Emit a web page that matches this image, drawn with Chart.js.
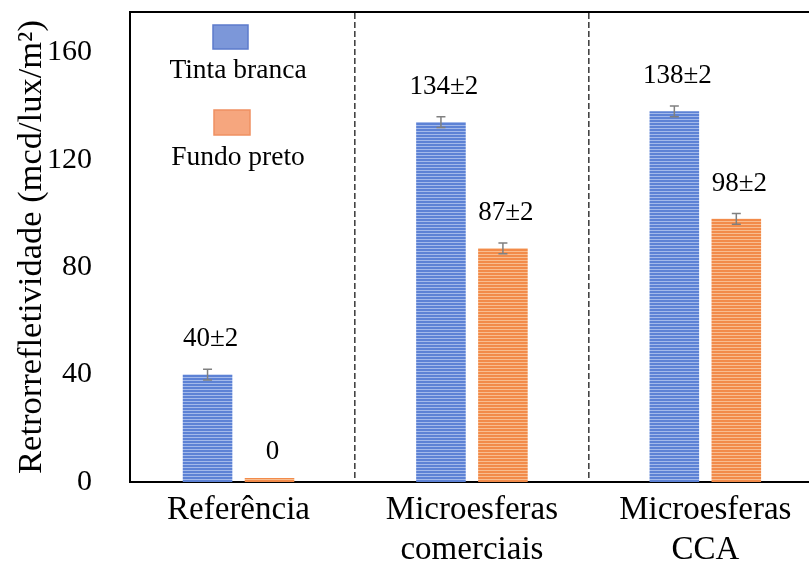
<!DOCTYPE html>
<html>
<head>
<meta charset="utf-8">
<script src="https://cdn.jsdelivr.net/npm/chart.js@4"></script>
<style>
  html, body { margin: 0; padding: 0; background: #fff; width: 809px; height: 568px; overflow: hidden; }
  #wrap { position: relative; width: 840px; height: 568px; }
</style>
</head>
<body>
<div id="wrap"><canvas id="c" width="840" height="568"></canvas></div>
<script>
// Retroreflectivity per sample group
const categories = ['Referência', ['Microesferas', 'comerciais'], ['Microesferas', 'CCA']];
const seriesNames = ['Tinta branca', 'Fundo preto'];
const tintaBranca = [40, 134, 138];
const fundoPreto = [0, 87, 98];
const errTintaBranca = [2, 2, 2];
const errFundoPreto = [0, 2, 2];
const yTicks = [0, 40, 80, 120, 160];
const separators = [0.5, 1.5];
const groupPositions = [0, 1, 2];

const SERIF = 'Liberation Serif, Times New Roman, serif';

// horizontal-striped fill for the bars
function stripes(base, light) {
  const c = document.createElement('canvas');
  c.width = 4; c.height = 3;
  const g = c.getContext('2d');
  g.fillStyle = base; g.fillRect(0, 0, 4, 3);
  g.fillStyle = light; g.fillRect(0, 2, 4, 1);
  return g.createPattern(c, 'repeat');
}
const ctx = document.getElementById('c').getContext('2d');
const bluePattern = stripes('#5d82d5', '#a3b9ea');
const orangePattern = stripes('#f28b4a', '#f8bd90');

const errors = [errTintaBranca, errFundoPreto];
const swatch = [
  { fill: '#7c97d9', stroke: '#5c7bcb' },
  { fill: '#f6a67e', stroke: '#ef9062' }
];

const xMin = -0.465, xMax = 2.577;

// error bars, value labels and stacked legend
const annotate = {
  id: 'annotate',
  afterDatasetsDraw(chart) {
    const c = chart.ctx, y = chart.scales.y;
    chart.data.datasets.forEach((ds, di) => {
      const meta = chart.getDatasetMeta(di);
      meta.data.forEach((bar, i) => {
        const v = ds.data[i].y, e = errors[di][i], x = bar.x;
        if (e > 0) {
          const t = y.getPixelForValue(v + e), b = y.getPixelForValue(v - e);
          c.save();
          c.strokeStyle = '#808080';
          c.lineWidth = 1.5;
          c.beginPath();
          c.moveTo(x, t); c.lineTo(x, b);
          c.moveTo(x - 4.5, t); c.lineTo(x + 4.5, t);
          c.moveTo(x - 4.5, b); c.lineTo(x + 4.5, b);
          c.stroke();
          c.restore();
        }
        c.save();
        c.fillStyle = '#000';
        c.font = '27px ' + SERIF;
        c.textAlign = 'center';
        c.textBaseline = 'middle';
        c.fillText(e > 0 ? v + '±' + e : String(v), x + 3, y.getPixelForValue(v + e) - 30);
        c.restore();
      });
    });
  },
  afterDraw(chart) {
    const c = chart.ctx, L = chart.chartArea.left;
    const rows = [
      { box: [L + 83, 25, 35, 24], textY: 71 },
      { box: [L + 84, 110, 36, 25], textY: 158 }
    ];
    chart.data.datasets.forEach((ds, di) => {
      const r = rows[di];
      c.save();
      c.fillStyle = swatch[di].fill;
      c.strokeStyle = swatch[di].stroke;
      c.lineWidth = 1.5;
      c.fillRect(...r.box);
      c.strokeRect(...r.box);
      c.fillStyle = '#000';
      c.font = '27.5px ' + SERIF;
      c.textAlign = 'center';
      c.textBaseline = 'middle';
      c.fillText(ds.label, L + 108, r.textY);
      c.restore();
    });
  }
};

new Chart(ctx, {
  type: 'bar',
  data: {
    datasets: [
      {
        label: seriesNames[0],
        data: tintaBranca.map((v, i) => ({ x: groupPositions[i], y: v })),
        backgroundColor: bluePattern,
        borderWidth: 0
      },
      {
        label: seriesNames[1],
        data: fundoPreto.map((v, i) => ({ x: groupPositions[i], y: v })),
        backgroundColor: orangePattern,
        borderWidth: 0,
        minBarLength: 4
      }
    ]
  },
  options: {
    responsive: false,
    animation: false,
    devicePixelRatio: 1,
    categoryPercentage: 0.531,
    barPercentage: 0.8,
    layout: { padding: 0 },
    plugins: { legend: { display: false }, tooltip: { enabled: false } },
    scales: {
      x: {
        type: 'linear',
        position: 'bottom',
        min: xMin, max: xMax,
        offset: false,
        z: 1,
        grid: { display: false, offset: false, drawTicks: false },
        border: { display: true, color: '#000', width: 2 },
        afterBuildTicks: s => { s.ticks = groupPositions.map(v => ({ value: v })); },
        ticks: {
          autoSkip: false, maxRotation: 0, minRotation: 0,
          color: '#000', padding: 9,
          font: { family: SERIF, size: 33 },
          callback: (v, i) => categories[i]
        },
        afterFit: s => { s.height = 86; s.paddingLeft = 0; s.paddingRight = 0; }
      },
      xTop: {
        type: 'linear',
        position: 'top',
        min: xMin, max: xMax,
        offset: false,
        grid: { display: true, offset: false, drawOnChartArea: true, drawTicks: false, color: '#444', lineWidth: 1.6 },
        border: { display: true, color: '#000', width: 2, dash: [6, 3] },
        afterBuildTicks: s => { s.ticks = separators.map(v => ({ value: v })); },
        ticks: { display: false },
        afterFit: s => { s.height = 12; s.paddingLeft = 0; s.paddingRight = 0; }
      },
      y: {
        min: 0, max: 175,
        grid: { display: false, drawTicks: false },
        border: { display: true, color: '#000', width: 2 },
        afterBuildTicks: s => { s.ticks = yTicks.map(v => ({ value: v })); },
        ticks: { color: '#000', padding: 38, font: { family: SERIF, size: 30 } },
        title: {
          display: true,
          text: 'Retrorrefletividade (mcd/lux/m²)',
          color: '#000',
          font: { family: SERIF, size: 34.5 },
          padding: { top: 11, bottom: 0 }
        },
        afterFit: s => { s.width = 130; s.paddingTop = 0; s.paddingBottom = 0; }
      }
    }
  },
  plugins: [annotate]
});
</script>
</body>
</html>
